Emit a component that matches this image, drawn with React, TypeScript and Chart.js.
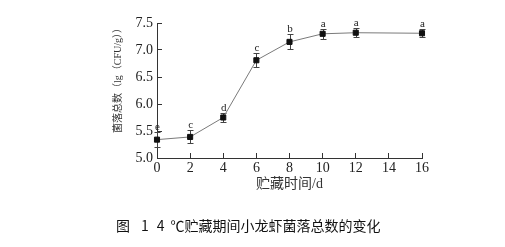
import React, { useEffect, useRef } from "react";
import { Chart, registerables } from "chart.js";

Chart.register(...registerables);

// ---- data ----
const days = [0, 2, 4, 6, 8, 10, 12, 16];
const counts = [5.34, 5.39, 5.75, 6.81, 7.15, 7.3, 7.32, 7.31];
const errors = [0.14, 0.12, 0.09, 0.13, 0.14, 0.09, 0.08, 0.07];
const letters = ["e", "c", "d", "c", "b", "a", "a", "a"];
const xMin = 0;
const xMax = 16;
const xStep = 2;
const yMin = 5.0;
const yMax = 7.5;
const yStep = 0.5;
const yTitle = "菌落总数（lg（CFU/g））";
const xTitle = "贮藏时间/d";
const captionParts = ["图", "1", "4", "℃贮藏期间小龙虾菌落总数的变化"];

const serifMix = "'Liberation Serif', 'Noto Sans CJK SC', serif";

const errorBarPlugin = {
  id: "errorBarsAndLetters",
  beforeDatasetsDraw(chart: any) {
    const { ctx } = chart;
    const x = chart.scales.x;
    const y = chart.scales.y;
    ctx.save();
    ctx.strokeStyle = "#444";
    ctx.lineWidth = 1;
    days.forEach((d, i) => {
      const px = Math.round(x.getPixelForValue(d)) + 0.5;
      const top = Math.round(y.getPixelForValue(counts[i] + errors[i])) + 0.5;
      const bot = Math.round(y.getPixelForValue(counts[i] - errors[i])) + 0.5;
      ctx.beginPath();
      ctx.moveTo(px, top);
      ctx.lineTo(px, bot);
      ctx.moveTo(px - 3, top);
      ctx.lineTo(px + 3, top);
      ctx.moveTo(px - 3, bot);
      ctx.lineTo(px + 3, bot);
      ctx.stroke();
    });
    ctx.restore();
  },
  afterDatasetsDraw(chart: any) {
    const { ctx } = chart;
    const x = chart.scales.x;
    const y = chart.scales.y;
    ctx.save();
    ctx.fillStyle = "#222";
    ctx.font = "11px 'Liberation Serif', serif";
    ctx.textAlign = "center";
    ctx.textBaseline = "alphabetic";
    days.forEach((d, i) => {
      const px = x.getPixelForValue(d);
      const top = y.getPixelForValue(counts[i] + errors[i]);
      ctx.fillText(letters[i], px + 0.5, top - 2);
    });
    ctx.restore();
  },
};

export default function App() {
  const canvasRef = useRef<HTMLCanvasElement | null>(null);

  useEffect(() => {
    if (!canvasRef.current) return;
    const chart = new Chart(canvasRef.current, {
      type: "line",
      data: {
        datasets: [
          {
            data: days.map((d, i) => ({ x: d, y: counts[i] })),
            borderColor: "#7a7a7a",
            borderWidth: 1,
            tension: 0,
            pointStyle: "rect",
            pointRadius: 3.6,
            pointBorderWidth: 1,
            pointBackgroundColor: "#111",
            pointBorderColor: "#111",
            clip: false as any,
          },
        ],
      },
      options: {
        animation: false,
        responsive: false,
        devicePixelRatio: 1,
        events: [],
        layout: { padding: { left: 0, top: 23, right: 83, bottom: 49 } },
        plugins: {
          legend: { display: false },
          tooltip: { enabled: false },
          title: { display: false },
        },
        scales: {
          x: {
            type: "linear",
            min: xMin,
            max: xMax,
            afterFit: (s: any) => {
              s.height = 40;
            },
            ticks: {
              stepSize: xStep,
              padding: 7,
              color: "#222",
              font: { family: "'Liberation Serif', serif", size: 14 },
            },
            grid: {
              drawOnChartArea: false,
              drawTicks: true,
              tickLength: -5,
              color: "#333",
            },
            border: { display: true, color: "#333", width: 1 },
            title: {
              display: true,
              text: xTitle,
              color: "#333",
              font: { family: serifMix, size: 14 },
              padding: { top: 0, bottom: 5 },
            },
          },
          y: {
            type: "linear",
            min: yMin,
            max: yMax,
            afterFit: (s: any) => {
              s.width = 157;
            },
            ticks: {
              stepSize: yStep,
              padding: 9,
              color: "#222",
              font: { family: "'Liberation Serif', serif", size: 14 },
              callback: (v: any) => Number(v).toFixed(1),
            },
            grid: {
              drawOnChartArea: false,
              drawTicks: true,
              tickLength: -5,
              color: "#333",
            },
            border: { display: true, color: "#333", width: 1 },
            title: {
              display: true,
              text: yTitle,
              align: "end",
              color: "#333",
              font: { family: serifMix, size: 10 },
              padding: { top: 112, bottom: 0 },
            },
          },
        },
      } as any,
      plugins: [errorBarPlugin],
    });
    return () => chart.destroy();
  }, []);

  return (
    <div style={{ position: "absolute", left: 0, top: 0, width: 505, height: 247, background: "#fff" }}>
      <canvas ref={canvasRef} width={505} height={247} style={{ width: 505, height: 247, display: "block" }} />
      <div
        style={{
          position: "absolute",
          left: 116,
          top: 218,
          height: 14,
          lineHeight: "14px",
          fontSize: 14,
          fontFamily: "'Noto Sans CJK SC', sans-serif",
          color: "#111",
          whiteSpace: "pre",
        }}
      >
        <span>{captionParts[0]}</span>
        <span style={{ marginLeft: 11 }}>{captionParts[1]}</span>
        <span style={{ marginLeft: 8 }}>{captionParts[2]}</span>
        <span style={{ marginLeft: 6 }}>{captionParts[3]}</span>
      </div>
    </div>
  );
}
